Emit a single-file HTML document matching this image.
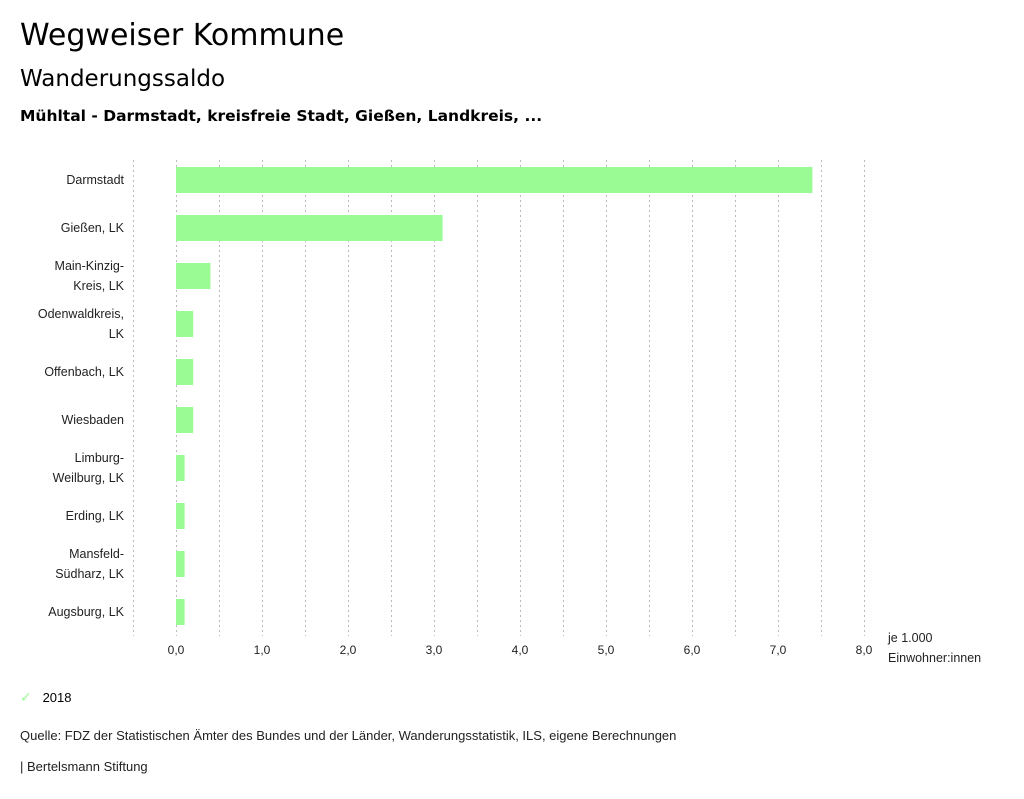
<!DOCTYPE html>
<html><head><meta charset="utf-8"><style>
body{margin:0;width:1024px;height:799px;background:#fff;font-family:"Liberation Sans","DejaVu Sans",sans-serif;color:#000;overflow:hidden;position:relative}
.t{position:absolute;left:20px;white-space:nowrap}
.d{font-family:"DejaVu Sans",sans-serif}
</style></head><body>
<div class="t d" style="top:18px;font-size:30px">Wegweiser Kommune</div>
<div class="t d" style="top:66px;font-size:23px">Wanderungssaldo</div>
<div class="t d" style="top:107px;font-size:15.5px;font-weight:bold">Mühltal - Darmstadt, kreisfreie Stadt, Gießen, Landkreis, ...</div>
<svg id="chart" width="1024" height="700" style="position:absolute;left:0;top:0" font-family="Liberation Sans, DejaVu Sans, sans-serif"></svg>
<div class="t" style="top:689px;font-size:13px"><span style="color:#9afa93;font-size:14px">✓</span>&nbsp;&nbsp;&nbsp;2018</div>
<div class="t" style="top:728px;font-size:13px;color:#222">Quelle: FDZ der Statistischen Ämter des Bundes und der Länder, Wanderungsstatistik, ILS, eigene Berechnungen</div>
<div class="t" style="top:759px;font-size:13px;color:#222">| Bertelsmann Stiftung</div>
<script>
const categories=[["Darmstadt"],["Gießen, LK"],["Main-Kinzig-","Kreis, LK"],["Odenwaldkreis,","LK"],["Offenbach, LK"],["Wiesbaden"],["Limburg-","Weilburg, LK"],["Erding, LK"],["Mansfeld-","Südharz, LK"],["Augsburg, LK"]];
const values=[7.4,3.1,0.4,0.2,0.2,0.2,0.1,0.1,0.1,0.1];
const tickValues=[0,1,2,3,4,5,6,7,8];
const tickLabels=["0,0","1,0","2,0","3,0","4,0","5,0","6,0","7,0","8,0"];
const svg=document.getElementById('chart');
const NS="http://www.w3.org/2000/svg";
const x=v=>176+v*86;
const rowY=i=>180+i*48;
function mk(t,a){const e=document.createElementNS(NS,t);for(const k in a)e.setAttribute(k,a[k]);svg.appendChild(e);return e;}
for(let v=-0.5;v<=8.01;v+=0.5){
 const l=mk('line',{x1:x(v)+0.5,x2:x(v)+0.5,y1:160,y2:636,stroke:'#bbb','stroke-dasharray':'2,3','stroke-width':1});
 
 
}
values.forEach((v,i)=>{
 const r=mk('rect',{x:x(0),y:rowY(i)-13,width:x(v)-x(0),height:26,fill:'#9afa93'});
 
 
 const lines=categories[i];
 lines.forEach((s,j)=>{
  const t=mk('text',{x:124,y:rowY(i)+4+(lines.length>1?(j-0.5)*20:0),'text-anchor':'end','font-size':12.5,fill:'#222'});
  t.textContent=s;
  
  
 });
});
tickValues.forEach((v,i)=>{
 const t=mk('text',{x:x(v),y:654,'text-anchor':'middle','font-size':12,fill:'#222'});
 t.textContent=tickLabels[i];
 
 
});
["je 1.000","Einwohner:innen"].forEach((s,j)=>{
 const t=mk('text',{x:888,y:642+j*20,'font-size':12.5,fill:'#222'});
 t.textContent=s;
 
 
});
</script>
</body></html>
